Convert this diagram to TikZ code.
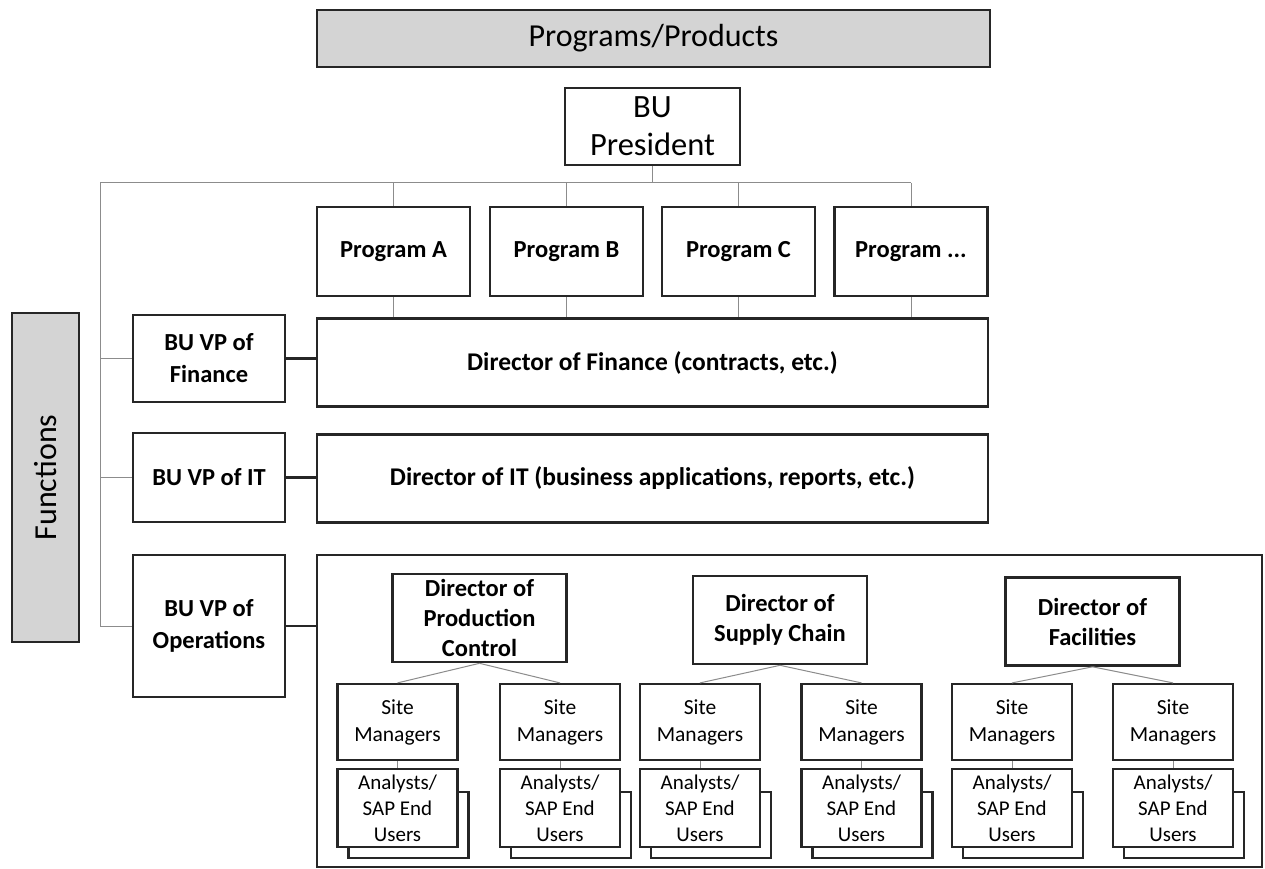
\documentclass[tikz,border=0pt]{standalone}
\usepackage{fontspec}
\setmainfont{Carlito}
\begin{document}
\begin{tikzpicture}[x=1pt,y=-1pt,
  box/.style={draw=black!85, line width=2.6pt, fill=white, inner sep=0pt, align=center,
              font=\fontsize{24.5}{32}\selectfont\bfseries},
  band/.style={box, fill=black!17, font=\fontsize{32}{36}\selectfont},
  prog/.style={box, minimum width=153, minimum height=89},
  vp/.style={box, minimum width=152},
  wide/.style={box, minimum width=671, minimum height=88, font=\fontsize{25.5}{30}\selectfont\bfseries},
  dir/.style={box, minimum width=174, minimum height=88, font=\fontsize{24.5}{30}\selectfont\bfseries},
  site/.style={box, line width=2.2pt, minimum width=120, minimum height=76,
               font=\fontsize{21.5}{27}\selectfont},
  users/.style={site, minimum height=78, font=\fontsize{21}{26}\selectfont},
  link/.style={draw=black!45, line width=1pt},
  tie/.style={draw=black!85, line width=2.6pt},
]
\useasboundingbox (0,0) rectangle (1265,869);

% headers
\node[band, minimum width=673, minimum height=57] (head) at (653.5,38.5) {Programs/Products};
\node[band, rotate=90, minimum width=329, minimum height=67] (func) at (45.5,477.5) {Functions};

% president and programs
\node[box, minimum width=175, minimum height=77, font=\fontsize{32.5}{38}\selectfont] (pres) at (652.5,126.5) {BU\\President};
\node[prog] (pa) at (393.5,251.5) {Program A};
\node[prog] (pb) at (566.5,251.5) {Program B};
\node[prog] (pc) at (738.5,251.5) {Program C};
\node[prog] (pz) at (911,251.5) {Program ...};

% vice presidents
\node[vp, minimum height=87] (vpfin) at (209,358.5) {BU VP of\\Finance};
\node[vp, minimum height=89] (vpit) at (209,477.5) {BU VP of IT};
\node[vp, minimum height=142] (vpops) at (209,626) {BU VP of\\Operations};

% functional directors
\node[wide] (dfin) at (652.5,362.5) {Director of Finance (contracts, etc.)};
\node[wide] (dit) at (652.5,478.5) {Director of IT (business applications, reports, etc.)};
\node[box, minimum width=945, minimum height=312] (ops) at (789.5,711) {};

% operations directors
\node[dir] (dpc) at (479.5,618) {Director of\\Production\\Control};
\node[dir] (dsc) at (780,620) {Director of\\Supply Chain};
\node[dir] (dfac) at (1092.5,621.5) {Director of\\Facilities};

% site managers with their analysts
\foreach \i/\cx in {1/397.5,2/560,3/700,4/861.5,5/1012,6/1173}{
  \node[site] (sm\i) at (\cx,722) {Site\\Managers};
  \draw[box, line width=2.2pt] (\cx-49,792) rectangle (\cx+71,858);
  \node[users] (au\i) at (\cx,808) {Analysts/\\SAP End\\Users};
  \draw[link] (sm\i.south) -- (au\i.north);
}

% reporting lines
\coordinate (bus) at (100,183);
\draw[link] (pres.south) -- (pres.south |- bus);
\draw[link] (bus) -- (bus -| pz.north);
\foreach \p in {pa,pb,pc,pz}{
  \draw[link] (\p.north |- bus) -- (\p.north);
  \draw[link] (\p.south) -- (\p.south |- dfin.north);
}
\draw[link] (bus) |- (vpops.west);
\draw[link] (bus |- vpfin.west) -- (vpfin.west);
\draw[link] (bus |- vpit.west) -- (vpit.west);

\draw[tie] (vpfin.east) -- (vpfin.east -| dfin.west);
\draw[tie] (vpit.east) -- (vpit.east -| dit.west);
\draw[tie] (vpops.east) -- (vpops.east -| ops.west);

\draw[link] (dpc.south) -- (sm1.north);
\draw[link] (dpc.south) -- (sm2.north);
\draw[link] (dsc.south) -- (sm3.north);
\draw[link] (dsc.south) -- (sm4.north);
\draw[link] (dfac.south) -- (sm5.north);
\draw[link] (dfac.south) -- (sm6.north);
\end{tikzpicture}
\end{document}
